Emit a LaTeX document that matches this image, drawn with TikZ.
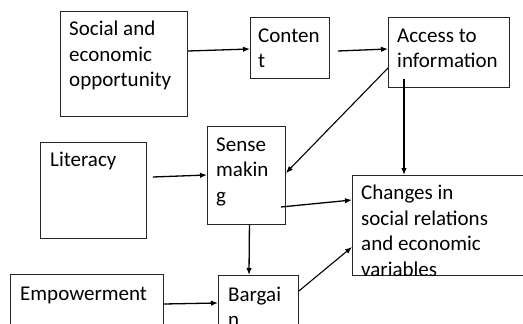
\documentclass[tikz,border=0pt]{standalone}
\usepackage{fontspec}
\setmainfont{Carlito}
\usetikzlibrary{arrows.meta,calc}
\begin{document}
\begin{tikzpicture}[x=1pt,y=-1pt]
		\tikzstyle{every node}+=[inner sep=0pt]
		\tikzstyle{box}=[draw=black!85,line width=0.9pt,anchor=north west]
		\tikzstyle{txt}=[anchor=base west,align=left,font=\fontsize{21}{25.5}\selectfont]
		\tikzstyle{arr}=[line width=1.3pt,-{Latex[length=7pt,width=5.5pt]}]
		\clip (0,0) rectangle (523,324);
		\fill[white] (0,0) rectangle (523,324);
		% boxes
		\node [box,minimum width=127pt,minimum height=105pt] (opp) at (60,11) {};
		\node [box,minimum width=79pt,minimum height=61pt] (content) at (250,17) {};
		\node [box,minimum width=121pt,minimum height=70pt] (access) at (388,17) {};
		\node [box,minimum width=106pt,minimum height=96pt] (literacy) at (40,142) {};
		\node [box,minimum width=78pt,minimum height=98pt] (sense) at (207,126) {};
		\node [box,minimum width=180pt,minimum height=100pt] (changes) at (352,175) {};
		\node [box,minimum width=153pt,minimum height=70pt] (empower) at (10,274) {};
		\node [box,minimum width=80pt,minimum height=70pt] (bargain) at (218,275) {};
		% texts (base = last line)
		\node [txt] (opp-t) at ($(opp.north west)+(9,75.5)$) {Social and\\economic\\opportunity};
		\node [txt] (content-t) at ($(content.north west)+(8,50.5)$) {Conten\\t};
		\node [txt] (access-t) at ($(access.north west)+(9,50.5)$) {Access to\\information};
		\node [txt] (literacy-t) at ($(literacy.north west)+(10,24.5)$) {Literacy};
		\node [txt] (sense-t) at ($(sense.north west)+(9,76)$) {Sense\\makin\\g};
		\node [txt] (changes-t) at ($(changes.north west)+(9,101)$) {Changes in\\social relations\\and economic\\variables};
		\node [txt] (empower-t) at ($(empower.north west)+(10,26)$) {Empowerment};
		\node [txt] (bargain-t) at ($(bargain.north west)+(10,51.5)$) {Bargai\\n};
		% arrows
		\draw [arr] (opp.east |- 0,51) -- (content.west |- 0,49);
		\draw [arr] ($(content.north east)+(8,34)$) -- (access.west |- 0,49);
		\draw [arr, line width=1.1pt] (access.west |- 0,68) -- (sense.east |- 0,173);
		\draw [arr] ($(access.north west)+(16,62)$) -- ($(changes.north west)+(52,0)$);
		\draw [arr] ($(literacy.north east)+(6,35)$) -- (sense.west |- 0,175);
		\draw [arr] ($(sense.north east)+(-5,81)$) -- (changes.west |- 0,200);
		\draw [arr] ($(sense.south)+(3,0)$) -- ($(bargain.north west)+(31,0)$);
		\draw [arr] (empower.east |- 0,304) -- (bargain.west |- 0,303);
		\draw [arr, line width=1.1pt] (bargain.east |- 0,291) -- (changes.west |- 0,247);
\end{tikzpicture}
\end{document}
